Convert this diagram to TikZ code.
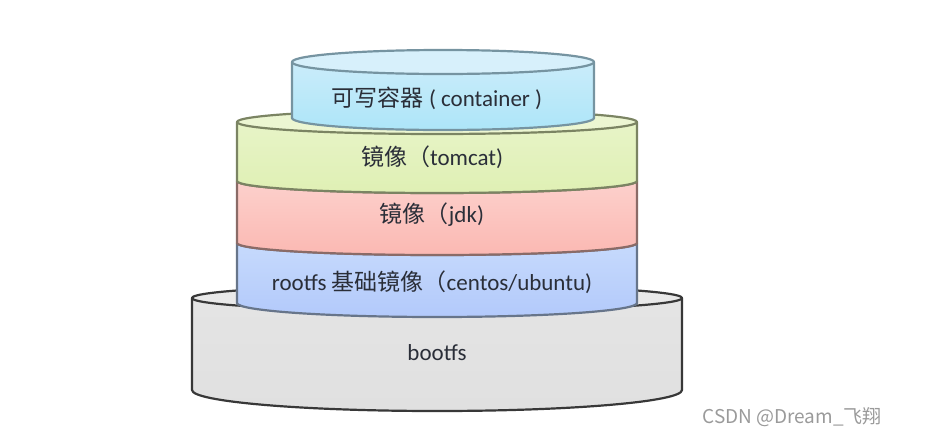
\documentclass[tikz,border=0pt]{standalone}
\usepackage{fontspec}
\setmainfont{Carlito}
\newfontfamily\cjk{Noto Sans CJK SC}
\usepackage{tikz}
\usetikzlibrary{positioning,calc}

\definecolor{boxtxt}{HTML}{2A2E38}
\definecolor{marktxt}{HTML}{9A9A9A}
\definecolor{bootfill}{HTML}{E0E0E0}
\definecolor{rootfill}{HTML}{BCD4FB}
\definecolor{jdkfill}{HTML}{FBC2BC}
\definecolor{catfill}{HTML}{DFF0B4}
\definecolor{boxfill}{HTML}{B6E4F8}

% one cylinder layer: cx, rx, ytop, rytop, ybot, rybot, top fill, body shading, line
\newcommand\cyllayer[9]{%
  \fill[#8]
    ({#1-#2},#3) -- ({#1-#2},#5)
    arc[start angle=180,end angle=360,x radius=#2,y radius=#6]
    -- ({#1+#2},#3)
    arc[start angle=0,end angle=180,x radius=#2,y radius=#4] -- cycle;
  \draw[#9,line width=1.1pt]
    ({#1-#2},#3) -- ({#1-#2},#5)
    arc[start angle=180,end angle=360,x radius=#2,y radius=#6]
    -- ({#1+#2},#3);
  \filldraw[fill=#7,draw=#9,line width=1.1pt] (#1,#3) ellipse[x radius=#2,y radius=#4];
}

\begin{document}
\begin{tikzpicture}[x=0.5pt,y=0.5pt,line join=round,line cap=round,
    layertext/.style={font=\fontsize{11.5}{13}\selectfont,text=boxtxt,inner sep=0pt}]
      \useasboundingbox (0,0) rectangle (935,441);

      % stack, bottom layer first
      \cyllayer{437}{245}{143}{13}{51}{21}{bootfill!70!white}{top color=bootfill!85!white,bottom color=bootfill}{black!78}
      \cyllayer{437}{200}{198}{12}{138}{14}{rootfill!70!white}{top color=rootfill!80!white,bottom color=rootfill!95!blue}{rootfill!55!black}
      \cyllayer{437}{200}{260}{12}{198}{12}{jdkfill!70!white}{top color=jdkfill!70!white,bottom color=jdkfill!95!red}{jdkfill!55!black}
      \cyllayer{437}{200}{319}{12}{260}{12}{catfill!60!white}{top color=catfill!70!white,bottom color=catfill}{catfill!55!black}
      \cyllayer{443}{151}{379}{12}{323}{12}{boxfill!55!white}{top color=boxfill!65!white,bottom color=boxfill!95!cyan}{boxfill!65!black}

      \node[layertext] (container) at (437,343) {{\cjk 可写容器} ( container )};
      \node[layertext] (tomcat) at (432,284) {{\cjk 镜像（}tomcat)};
      \node[layertext] (jdk) at (432,226) {{\cjk 镜像（}jdk)};
      \node[layertext] (rootfs) at (432,159) {rootfs {\cjk 基础镜像（}centos/ubuntu)};
      \node[layertext] (bootfs) at (437,88) {bootfs};

      \node[anchor=west,inner sep=0pt,text=marktxt,font=\cjk\fontsize{9.5}{11}\selectfont] (mark) at (702,24) {CSDN @Dream\_飞翔};
    \end{tikzpicture}
\end{document}
